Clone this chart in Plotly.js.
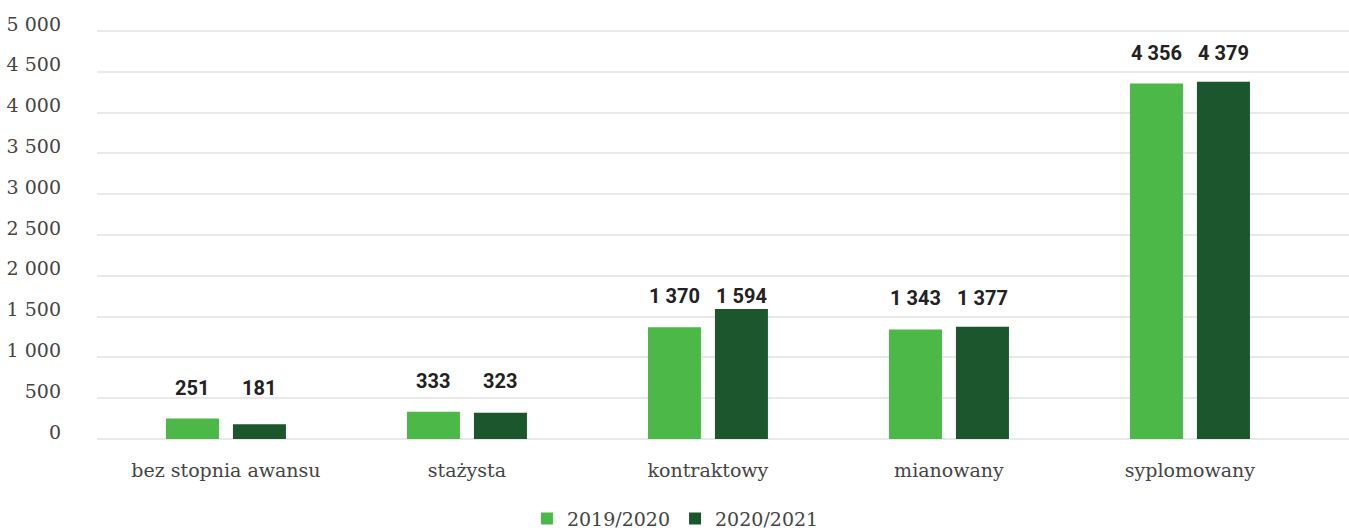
<!DOCTYPE html>
<html>
<head>
<meta charset="utf-8">
<script src="https://cdn.plot.ly/plotly-3.0.1.min.js"></script>
<style>html,body{margin:0;padding:0;background:#fff;}#chart{width:1349px;height:532px;}</style>
</head>
<body>
<div id="chart"></div>
<script>
const categories = ['bez stopnia awansu', 'stażysta', 'kontraktowy', 'mianowany', 'syplomowany'];
const seriesNames = ['2019/2020', '2020/2021'];
const values2019 = [251, 333, 1370, 1343, 4356];
const values2020 = [181, 323, 1594, 1377, 4379];
const yTicks = [0, 500, 1000, 1500, 2000, 2500, 3000, 3500, 4000, 4500, 5000];

const colors = ['#4cb848', '#1b562d'];
const fmt = v => String(v).replace(/\B(?=(\d{3})+(?!\d))/g, ' ');
const lightFont = {family: '"DejaVu Serif", serif', size: 19, color: '#454545', weight: 400};

const traces = [
  {type: 'bar', name: seriesNames[0], x: categories, y: values2019, marker: {color: colors[0]}, hoverinfo: 'skip'},
  {type: 'bar', name: seriesNames[1], x: categories, y: values2020, marker: {color: colors[1]}, hoverinfo: 'skip'}
];

const annotations = [];
categories.forEach((c, i) => {
  [values2019, values2020].forEach((arr, k) => {
    annotations.push({
      x: c, y: values2019[i], xref: 'x', yref: 'y',
      text: fmt(arr[i]), showarrow: false,
      xshift: k === 0 ? -33.5 : 33.5, yshift: 31,
      font: {family: 'Roboto, sans-serif', size: 20, color: '#222222', weight: 700}
    });
  });
});

const layout = {
  width: 1349, height: 532,
  margin: {l: 97, r: 0, t: 29, b: 93, pad: 0},
  paper_bgcolor: '#ffffff', plot_bgcolor: '#ffffff',
  separators: ', ',
  barmode: 'group', bargap: 0.444, bargroupgap: 0.209,
  font: lightFont,
  showlegend: true,
  legend: {orientation: 'h', x: 0.462, xanchor: 'center', xref: 'paper',
           y: 0.025, yanchor: 'middle', yref: 'container',
           font: lightFont, itemwidth: 30, traceorder: 'normal'},
  xaxis: {type: 'category', range: [-0.535, 4.66], showgrid: false, zeroline: false, showline: false,
          ticks: '', ticklabelstandoff: 18, tickfont: lightFont, fixedrange: true},
  yaxis: {range: [0, 5025], tickvals: yTicks, ticktext: yTicks.map(fmt), showgrid: true,
          gridcolor: '#e9e9e9', gridwidth: 2, zeroline: true, zerolinecolor: '#e9e9e9', zerolinewidth: 2,
          showline: false, ticks: '', ticklabelstandoff: 35, ticklabelshift: -7, tickfont: lightFont, fixedrange: true},
  annotations: annotations
};

Plotly.newPlot('chart', traces, layout, {displayModeBar: false, staticPlot: true});
</script>
</body>
</html>
